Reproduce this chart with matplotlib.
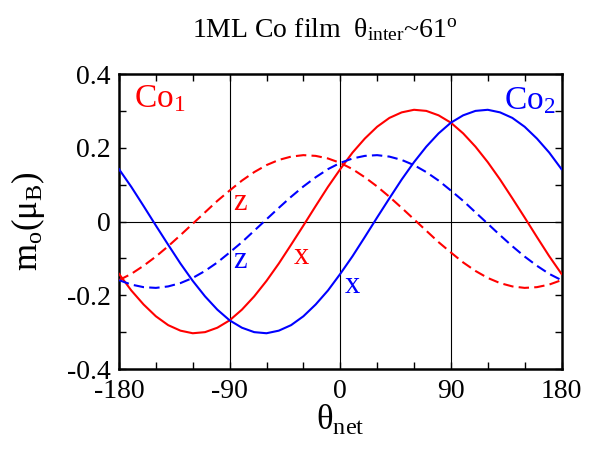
import numpy as np
import matplotlib
matplotlib.use("Agg")
import matplotlib.pyplot as plt
from matplotlib.ticker import MultipleLocator

plt.rcParams['font.family'] = ['Liberation Serif', 'DejaVu Serif']
plt.rcParams['mathtext.fontset'] = 'custom'
plt.rcParams['mathtext.rm'] = 'Liberation Serif'
plt.rcParams['mathtext.it'] = 'Liberation Serif:italic'
plt.rcParams['mathtext.default'] = 'rm'
plt.rcParams['axes.unicode_minus'] = False

# orbital moment vs. net magnetisation angle, sampled every 10 deg
theta = list(range(-180, 181, 10))

co1_x = [-0.142, -0.187, -0.225, -0.257, -0.281, -0.296, -0.303, -0.300, -0.288,
         -0.268, -0.239, -0.203, -0.161, -0.114, -0.063, -0.011, 0.042, 0.094,
         0.142, 0.187, 0.225, 0.257, 0.281, 0.296, 0.303, 0.300, 0.288, 0.268,
         0.239, 0.203, 0.161, 0.114, 0.063, 0.011, -0.042, -0.094, -0.142]
co1_z = [-0.159, -0.142, -0.120, -0.095, -0.067, -0.037, -0.006, 0.025, 0.056,
         0.084, 0.111, 0.134, 0.153, 0.167, 0.176, 0.180, 0.178, 0.171, 0.159,
         0.142, 0.120, 0.095, 0.067, 0.037, 0.006, -0.025, -0.056, -0.084,
         -0.111, -0.134, -0.153, -0.167, -0.176, -0.180, -0.178, -0.171, -0.159]
co2_x = [0.142, 0.094, 0.042, -0.011, -0.063, -0.114, -0.161, -0.203, -0.239,
         -0.268, -0.288, -0.300, -0.303, -0.296, -0.281, -0.257, -0.225, -0.187,
         -0.142, -0.094, -0.042, 0.011, 0.063, 0.114, 0.161, 0.203, 0.239, 0.268,
         0.288, 0.300, 0.303, 0.296, 0.281, 0.257, 0.225, 0.187, 0.142]
co2_z = [-0.159, -0.171, -0.178, -0.180, -0.176, -0.167, -0.153, -0.134, -0.111,
         -0.084, -0.056, -0.025, 0.006, 0.037, 0.067, 0.095, 0.120, 0.142, 0.159,
         0.171, 0.178, 0.180, 0.176, 0.167, 0.153, 0.134, 0.111, 0.084, 0.056,
         0.025, -0.006, -0.037, -0.067, -0.095, -0.120, -0.142, -0.159]

xticks = [-180, -90, 0, 90, 180]
yticks = [-0.4, -0.2, 0, 0.2, 0.4]
xticklabels = ['-180', '-90', '0', '90', '180']
yticklabels = ['-0.4', '-0.2', '0', '0.2', '0.4']

RED = '#ff0000'
BLUE = '#0000ff'

fig = plt.figure(figsize=(5.95, 4.53), dpi=100)
ax = fig.add_axes([0.200, 0.1854, 0.7437, 0.6512])

# zero line and guide lines at the quarter angles
ax.axhline(0, color='k', lw=0.8, zorder=1)
for xv in (-90, 0, 90):
    ax.axvline(xv, color='k', lw=0.8, zorder=1)

ax.plot(theta, co1_x, color=RED, lw=1.5, zorder=3)
ax.plot(theta, co1_z, color=RED, lw=1.5, dashes=(5, 2.5), zorder=3)
ax.plot(theta, co2_x, color=BLUE, lw=1.5, zorder=3)
ax.plot(theta, co2_z, color=BLUE, lw=1.5, dashes=(5, 2.5), zorder=3)

ax.set_xlim(-180, 180)
ax.set_ylim(-0.4, 0.4)
ax.set_xticks(xticks)
ax.set_xticklabels(xticklabels)
ax.set_yticks(yticks)
ax.set_yticklabels(yticklabels)
ax.xaxis.set_minor_locator(MultipleLocator(30))
ax.yaxis.set_minor_locator(MultipleLocator(0.1))
ax.tick_params(which='both', direction='in', top=True, right=True,
               length=5, width=1, labelsize=20)
ax.tick_params(axis='x', pad=7)
ax.tick_params(axis='y', pad=6)
for s in ax.spines.values():
    s.set_linewidth(1.8)

ax.set_xlabel(r'$\theta_{net}$', fontsize=25, labelpad=0)
ax.set_ylabel(r'$m_o(\mu_B)$', fontsize=25, labelpad=14)

fig.text(0.546, 0.918, r'1ML Co film  $\theta_{inter}$~61$^o$',
         fontsize=20, ha='center', va='baseline')

# curve annotations
ax.text(-168, 0.31, r'Co$_1$', color=RED, fontsize=24, va='baseline')
ax.text(133, 0.304, r'Co$_2$', color=BLUE, fontsize=24, va='baseline')
ax.text(-87, 0.031, 'z', color=RED, fontsize=22, va='baseline')
ax.text(-87, -0.125, 'z', color=BLUE, fontsize=22, va='baseline')
ax.text(-38, -0.114, 'x', color=RED, fontsize=22, va='baseline')
ax.text(4, -0.193, 'x', color=BLUE, fontsize=22, va='baseline')

fig.savefig('out.png', dpi=100)
